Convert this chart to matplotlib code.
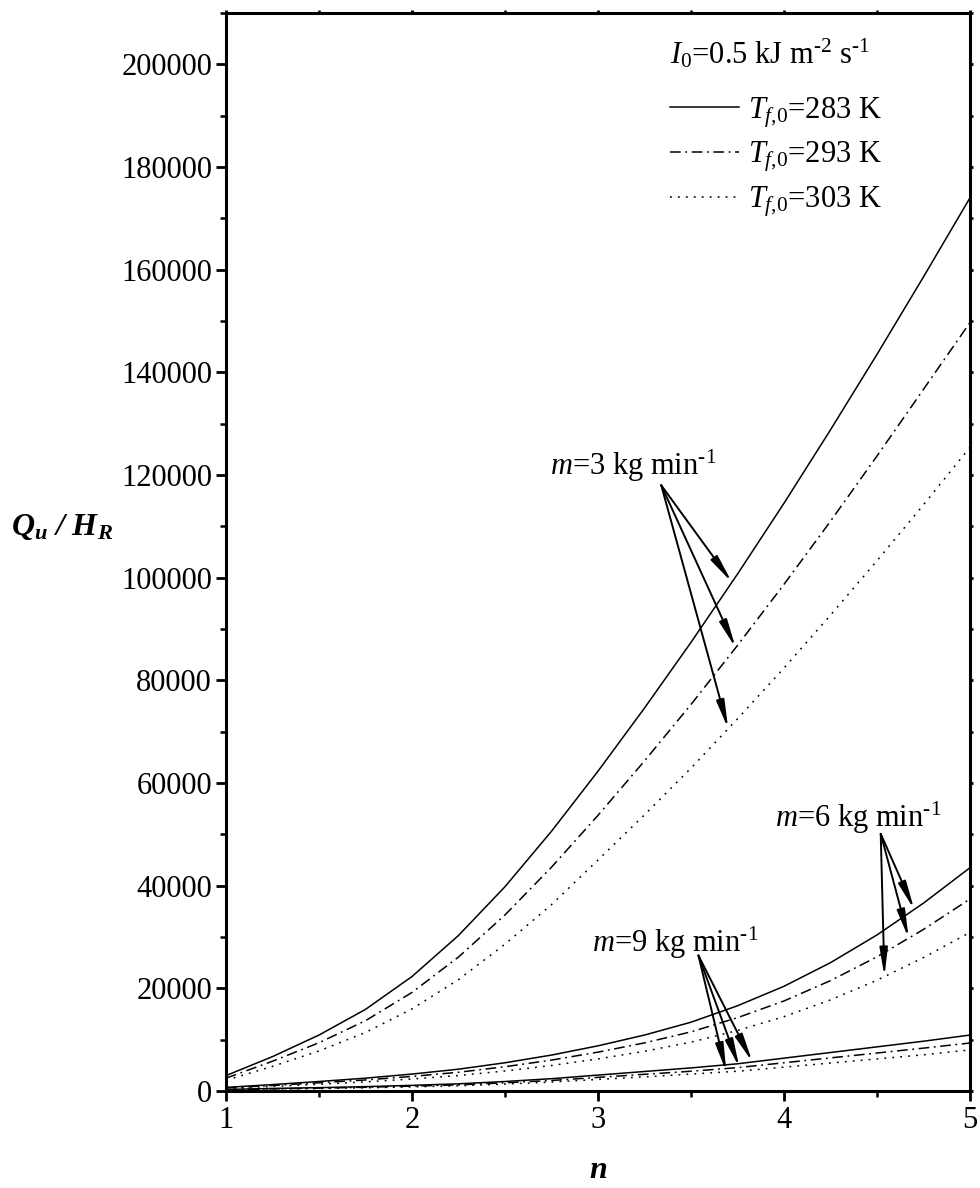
import numpy as np
import matplotlib
matplotlib.use("Agg")
import matplotlib.pyplot as plt
from matplotlib.ticker import MultipleLocator

plt.rcParams['font.family'] = ['Liberation Serif', 'DejaVu Serif']
plt.rcParams['mathtext.fontset'] = 'custom'
plt.rcParams['mathtext.rm'] = 'Liberation Serif'
plt.rcParams['mathtext.it'] = 'Liberation Serif:italic'
plt.rcParams['mathtext.bf'] = 'Liberation Serif:italic:bold'

# ---------------- data ----------------
n = [1.0, 1.25, 1.5, 1.75, 2.0, 2.25, 2.5, 2.75, 3.0, 3.25, 3.5, 3.75, 4.0, 4.25, 4.5, 4.75, 5.0]

m3_283 = [3000, 6700, 10900, 15900, 22300, 30300, 39800, 50600, 62300, 74600, 87400, 100700, 114500, 128800, 143500, 158600, 174000]
m3_293 = [2500, 5800, 9400, 13700, 19200, 26100, 34300, 43600, 53700, 64300, 75300, 86800, 98700, 111000, 123700, 136700, 149700]
m3_303 = [2100, 4800, 7800, 11400, 16000, 21700, 28600, 36300, 45000, 53800, 62900, 72500, 82400, 92700, 103300, 114200, 125400]

m6_283 = [700, 1250, 1850, 2500, 3300, 4250, 5500, 7000, 8800, 10900, 13400, 16600, 20400, 25000, 30400, 36600, 43500]
m6_293 = [600, 1080, 1600, 2150, 2840, 3650, 4730, 6020, 7570, 9370, 11520, 14280, 17540, 21500, 26140, 31480, 37400]
m6_303 = [500, 890, 1310, 1780, 2340, 3020, 3900, 4970, 6250, 7740, 9510, 11790, 14480, 17750, 21580, 25990, 30900]

m9_283 = [300, 500, 650, 850, 1100, 1400, 1850, 2400, 3100, 3800, 4500, 5300, 6400, 7500, 8600, 9700, 10900]
m9_293 = [250, 420, 560, 730, 950, 1200, 1600, 2050, 2650, 3250, 3850, 4550, 5500, 6450, 7400, 8350, 9350]
m9_303 = [200, 360, 470, 620, 800, 1020, 1350, 1750, 2250, 2750, 3300, 3850, 4650, 5450, 6250, 7050, 8000]

legend_title = r"$I_\mathrm{0}$=0.5 kJ m$^{\text{-2}}$ s$^{\text{-1}}$"
temp_labels = [r"$T_{f\text{,0}}$=283 K", r"$T_{f\text{,0}}$=293 K", r"$T_{f\text{,0}}$=303 K"]
flow_labels = [r"$m$=3 kg min$^{\text{-1}}$", r"$m$=6 kg min$^{\text{-1}}$", r"$m$=9 kg min$^{\text{-1}}$"]

# ---------------- figure ----------------
W, H = 980, 1188
AX_L, AX_R, AX_T, AX_B = 226, 970, 13, 1091
fig = plt.figure(figsize=(W / 100, H / 100), dpi=100)
fig.subplots_adjust(left=AX_L / W, right=AX_R / W, top=1 - AX_T / H, bottom=1 - AX_B / H)
ax = fig.add_subplot(111)

def axx(px):
    return (px - AX_L) / (AX_R - AX_L)

def axy(py):
    return (AX_B - py) / (AX_B - AX_T)

styles = ['-', (0, (7, 3, 1.2, 3)), (0, (1.2, 4))]
lw = 1.1
groups = [(m3_283, m3_293, m3_303), (m6_283, m6_293, m6_303), (m9_283, m9_293, m9_303)]
handles = []
for gi, grp in enumerate(groups):
    for si, ser in enumerate(grp):
        ln, = ax.plot(n, ser, color='black', lw=lw, linestyle=styles[si])
        if gi == 0:
            handles.append(ln)

ax.set_xlim(1, 5)
ax.set_ylim(0, 210000)
ax.xaxis.set_major_locator(MultipleLocator(1))
ax.xaxis.set_minor_locator(MultipleLocator(0.5))
ax.yaxis.set_minor_locator(MultipleLocator(10000))
ax.set_yticks(np.arange(0, 200001, 20000))
ax.set_yticklabels([str(v) for v in range(0, 200001, 20000)])

for sp in ax.spines.values():
    sp.set_linewidth(2.2)

ax.tick_params(axis='both', which='major', direction='out', length=7, width=2.0,
               labelsize=22, top=True, right=True)
ax.tick_params(axis='both', which='minor', direction='out', length=4.5, width=1.8,
               top=True, right=True)
ax.tick_params(axis='x', which='both', pad=4, labeltop=False)
ax.tick_params(axis='y', which='both', pad=3, labelright=False)
for t in ax.xaxis.get_major_ticks() + ax.xaxis.get_minor_ticks():
    t.tick2line.set_markersize(2.5)
for t in ax.yaxis.get_major_ticks() + ax.yaxis.get_minor_ticks():
    t.tick2line.set_markersize(2.5)

ax.set_xlabel(r"$\mathbf{n}$", fontsize=23, va='center')
ax.xaxis.set_label_coords(0.5, axy(1170))
ax.set_ylabel(r"$\mathbf{Q_u\ /\ H_R}$", fontsize=23, rotation=0, ha='center', va='center')
ax.yaxis.set_label_coords(axx(62), axy(527))

# legend: title as text, entries as legend
ax.text(axx(670), axy(63), legend_title, transform=ax.transAxes, fontsize=22,
        ha='left', va='baseline')
leg = ax.legend(handles, temp_labels, loc='upper left', bbox_to_anchor=(axx(670), axy(95)),
                frameon=False, fontsize=22, handlelength=2.25, handletextpad=0.3,
                labelspacing=0.33, borderaxespad=0.0, borderpad=0.0)

# ---------------- annotations ----------------
arrow_kw = dict(arrowstyle='-|>,head_length=1.05,head_width=0.15', lw=1.4, color='black',
                shrinkA=0, shrinkB=0, mutation_scale=16)

label_pos = [(2.74, 120000), (3.95, 51500), (2.97, 27000)]
arrow_start = [(3.34, 118000), (4.52, 50100), (3.54, 26400)]
arrow_tips_n = [(3.72, 3.74, 3.70), (4.70, 4.67, 4.54), (3.83, 3.76, 3.69)]

for gi, grp in enumerate(groups):
    ax.text(label_pos[gi][0], label_pos[gi][1], flow_labels[gi], fontsize=22,
            ha='left', va='baseline')
    for si, ser in enumerate(grp):
        xt = arrow_tips_n[gi][si]
        yt = float(np.interp(xt, n, ser))
        ax.annotate('', xy=(xt, yt), xytext=arrow_start[gi], arrowprops=arrow_kw)

fig.savefig('out.png', dpi=100)
